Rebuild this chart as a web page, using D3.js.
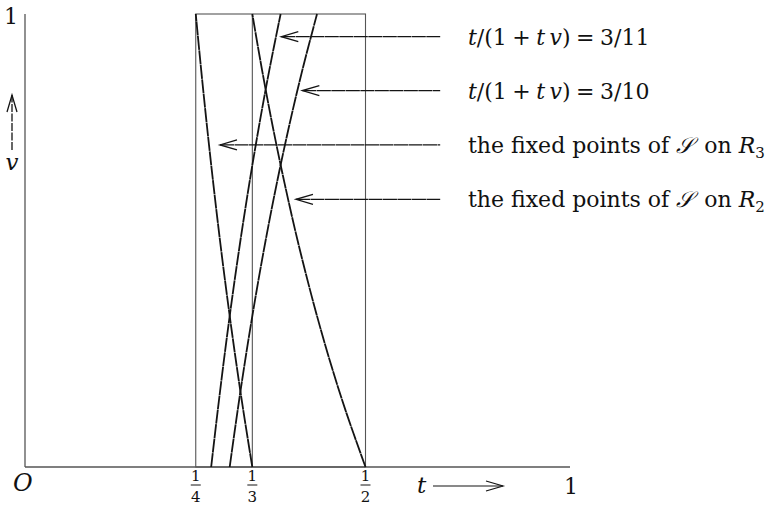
<!DOCTYPE html>
<html>
<head>
<meta charset="utf-8">
<script src="https://cdn.jsdelivr.net/npm/d3@7"></script>
<style>
  body { margin: 0; background: #fff; }
  svg text { font-family: "DejaVu Serif", "Liberation Serif", serif; fill: #111; }
</style>
</head>
<body>
<svg width="765" height="508"></svg>
<script>
const vSamples = [0, 0.125, 0.25, 0.375, 0.5, 0.625, 0.75, 0.875, 1];
// t values of each curve at those v
const tLine311 = [0.2727, 0.2824, 0.2927, 0.3038, 0.3158, 0.3288, 0.3429, 0.3582, 0.3750];
const tLine310 = [0.3000, 0.3117, 0.3243, 0.3380, 0.3529, 0.3692, 0.3871, 0.4068, 0.4286];
const tFixedR3 = [0.3333, 0.3200, 0.3077, 0.2963, 0.2857, 0.2759, 0.2667, 0.2581, 0.2500];
const tFixedR2 = [0.5000, 0.4706, 0.4444, 0.4211, 0.4000, 0.3810, 0.3636, 0.3478, 0.3333];

// x ticks as fractions
const tickValues = [1/4, 1/3, 1/2];
const tickNumerators = ['1', '1', '1'];
const tickDenominators = ['4', '3', '2'];

// annotation arrows: tip (t, v)
const arrowTipT = [0.376, 0.407, 0.2857, 0.3976];
const arrowTipV = [0.950, 0.831, 0.711, 0.591];
const arrowEndT = 0.61;
const labelT = 0.651;

function drawChart() {
    const svg = d3.select('svg');

    const xScale = d3.scaleLinear().domain([0, 1]).range([26, 705]);
    const yScale = d3.scaleLinear().domain([0, 1]).range([467, 14]);

    const axisColor = '#555';
    const ink = '#141414';
    const dash = '14,0.5';

    // axes
    svg.append('line')
        .attr('x1', 25).attr('x2', 570)
        .attr('y1', yScale(0)).attr('y2', yScale(0))
        .attr('stroke', axisColor).attr('stroke-width', 1.3);

    svg.append('line')
        .attr('x1', 25).attr('x2', 25)
        .attr('y1', yScale(0)).attr('y2', yScale(1))
        .attr('stroke', axisColor).attr('stroke-width', 1.3);

    // rectangle [1/4,1/2] x [0,1] and the t = 1/3 line
    svg.append('rect')
        .attr('x', xScale(1/4))
        .attr('y', yScale(1))
        .attr('width', xScale(1/2) - xScale(1/4))
        .attr('height', yScale(0) - yScale(1))
        .attr('fill', 'none')
        .attr('stroke', axisColor)
        .attr('stroke-width', 1.1);

    svg.append('line')
        .attr('x1', xScale(1/3)).attr('x2', xScale(1/3))
        .attr('y1', yScale(0)).attr('y2', yScale(1))
        .attr('stroke', axisColor).attr('stroke-width', 1.1);

    // curves
    const curve = d3.line()
        .x((d) => xScale(d[0]))
        .y((d) => yScale(d[1]))
        .curve(d3.curveCatmullRom);

    [tLine311, tLine310, tFixedR3, tFixedR2].forEach((ts) => {
        svg.append('path')
            .attr('d', curve(ts.map((t, i) => [t, vSamples[i]])))
            .attr('fill', 'none')
            .attr('stroke', ink)
            .attr('stroke-width', 1.8)
            .attr('stroke-dasharray', dash);
    });

    // open arrowhead pointing in direction (dx, dy)
    const head = (x, y, dx, dy) => {
        const len = 17, half = 5;
        const px = -dy, py = dx;
        return `M${x + dx * len + px * half},${y + dy * len + py * half}L${x},${y}L${x + dx * len - px * half},${y + dy * len - py * half}`;
    };

    // annotation arrows
    arrowTipT.forEach((t, i) => {
        const x = xScale(t);
        const y = yScale(arrowTipV[i]);
        svg.append('line')
            .attr('x1', x).attr('x2', xScale(arrowEndT))
            .attr('y1', y).attr('y2', y)
            .attr('stroke', ink).attr('stroke-width', 1.3)
            .attr('stroke-dasharray', dash);
        svg.append('path')
            .attr('d', head(x, y, 1, 0))
            .attr('fill', 'none').attr('stroke', ink).attr('stroke-width', 1.3);
    });

    // annotation labels
    const lx = xScale(labelT);
    const fs = 22;
    const eqLabel = (y, rhs) => {
        const tx = svg.append('text').attr('x', lx).attr('y', y + 8).attr('font-size', fs);
        tx.append('tspan').attr('font-style', 'italic').text('t');
        tx.append('tspan').text('/(1\u2005+\u2005');
        tx.append('tspan').attr('font-style', 'italic').text('t\u2009v');
        tx.append('tspan').text(')\u2005=\u20053/' + rhs);
    };
    eqLabel(yScale(arrowTipV[0]), '11');
    eqLabel(yScale(arrowTipV[1]), '10');

    const fixedLabel = (y, sub) => {
        const tx = svg.append('text').attr('x', lx).attr('y', y + 8).attr('font-size', fs);
        tx.append('tspan').text('the fixed points of\u00a0');
        tx.append('tspan').attr('font-style', 'italic').text('𝒮');
        tx.append('tspan').text('\u2002on\u00a0');
        tx.append('tspan').attr('font-style', 'italic').text('R');
        tx.append('tspan').attr('font-size', 15).attr('dy', 5).text(sub);
    };
    fixedLabel(yScale(arrowTipV[2]), '3');
    fixedLabel(yScale(arrowTipV[3]), '2');

    // x tick fractions
    tickValues.forEach((t, i) => {
        const x = xScale(t);
        svg.append('text').attr('x', x).attr('y', 481)
            .attr('text-anchor', 'middle').attr('font-size', 15).text(tickNumerators[i]);
        svg.append('line')
            .attr('x1', x - 5).attr('x2', x + 5)
            .attr('y1', 485).attr('y2', 485)
            .attr('stroke', ink).attr('stroke-width', 1);
        svg.append('text').attr('x', x).attr('y', 502)
            .attr('text-anchor', 'middle').attr('font-size', 15).text(tickDenominators[i]);
    });

    // origin and end labels
    svg.append('text').attr('x', 13).attr('y', 491)
        .attr('font-size', 24).attr('font-style', 'italic').text('O');
    svg.append('text').attr('x', 571).attr('y', 494)
        .attr('text-anchor', 'middle').attr('font-size', 22).text('1');
    svg.append('text').attr('x', 11).attr('y', 24)
        .attr('text-anchor', 'middle').attr('font-size', 22).text('1');

    // t axis name with arrow
    svg.append('text').attr('x', 417).attr('y', 493)
        .attr('font-size', 23).attr('font-style', 'italic').text('t');
    svg.append('line')
        .attr('x1', 433).attr('x2', 503).attr('y1', 486).attr('y2', 486)
        .attr('stroke', ink).attr('stroke-width', 1.2);
    svg.append('path').attr('d', head(503, 486, -1, 0))
        .attr('fill', 'none').attr('stroke', ink).attr('stroke-width', 1.2);

    // v axis name with arrow
    svg.append('line')
        .attr('x1', 12).attr('x2', 12).attr('y1', 150).attr('y2', 95)
        .attr('stroke', ink).attr('stroke-width', 1.3)
        .attr('stroke-dasharray', '8,1.5');
    svg.append('path').attr('d', head(12, 95, 0, 1))
        .attr('fill', 'none').attr('stroke', ink).attr('stroke-width', 1.3);
    svg.append('text').attr('x', 12).attr('y', 170)
        .attr('text-anchor', 'middle').attr('font-size', 23).attr('font-style', 'italic').text('v');
}

drawChart();
</script>
</body>
</html>
